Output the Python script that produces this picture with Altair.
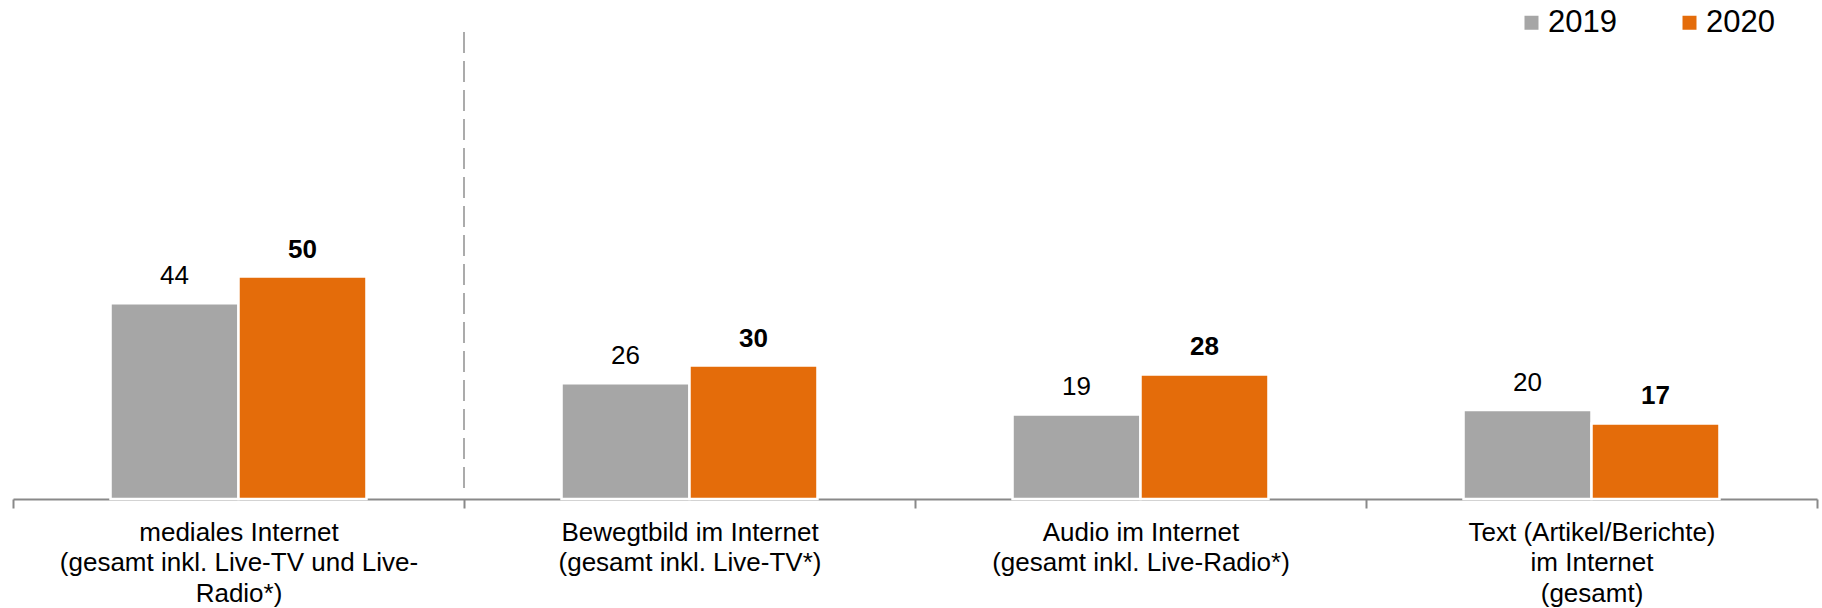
import altair as alt
import pandas as pd

categories = [
    "mediales Internet|(gesamt inkl. Live-TV und Live-|Radio*)",
    "Bewegtbild im Internet|(gesamt inkl. Live-TV*)",
    "Audio im Internet|(gesamt inkl. Live-Radio*)",
    "Text (Artikel/Berichte)|im Internet|(gesamt)",
]
years = ["2019", "2020"]
values_2019 = [44, 26, 19, 20]
values_2020 = [50, 30, 28, 17]
colors = ["#A6A6A6", "#E46C0A"]

rows = []
for c, a, b in zip(categories, values_2019, values_2020):
    rows.append({"cat": c, "year": "2019", "value": a})
    rows.append({"cat": c, "year": "2020", "value": b})
df = pd.DataFrame(rows)

FONT = "Liberation Sans"

x_enc = alt.X(
    "cat:N",
    sort=categories,
    scale=alt.Scale(paddingInner=0, paddingOuter=0),
    axis=alt.Axis(
        title=None,
        labelExpr="split(datum.label, '|')",
        tickBand="extent",
        labelAngle=0,
        labelFont=FONT,
        labelFontSize=26,
        labelColor="#000000",
        labelLineHeight=30.5,
        labelPadding=11,
        labelLimit=0,
        labelBaseline="top",
        domainColor="#898989",
        domainWidth=2,
        tickColor="#898989",
        tickWidth=2,
        tickSize=9,
        grid=False,
    ),
)
xoff = alt.XOffset("year:N", sort=years, scale=alt.Scale(paddingInner=0, paddingOuter=0.762))
y_enc = alt.Y("value:Q", scale=alt.Scale(domain=[0, 105], nice=False, zero=True), axis=None)

bars = alt.Chart(df).mark_bar(stroke="white", strokeWidth=2.5).encode(
    x=x_enc,
    xOffset=xoff,
    y=y_enc,
    color=alt.Color(
        "year:N",
        sort=years,
        scale=alt.Scale(domain=years, range=colors),
        legend=alt.Legend(
            title=None,
            orient="none",
            legendX=1503,
            legendY=-25,
            direction="horizontal",
            symbolType="square",
            symbolSize=196,
            symbolStrokeWidth=0,
            labelFont=FONT,
            labelFontSize=31,
            labelColor="#000000",
            labelOffset=1,
            columnPadding=57,
        ),
    ),
)

lab19 = alt.Chart(df).transform_filter(alt.datum.year == "2019").mark_text(
    dy=-19, baseline="alphabetic", fontSize=26, font=FONT, color="#000000"
).encode(x=alt.X("cat:N", sort=categories), xOffset=xoff, y=y_enc, text="value:Q")

lab20 = alt.Chart(df).transform_filter(alt.datum.year == "2020").mark_text(
    dy=-19, baseline="alphabetic", fontSize=26, font=FONT, fontWeight="bold", color="#000000"
).encode(x=alt.X("cat:N", sort=categories), xOffset=xoff, y=y_enc, text="value:Q")

sep = pd.DataFrame({"cat": [categories[1]], "top": [105], "bottom": [1.3]})
rule = alt.Chart(sep).mark_rule(strokeDash=[21, 8], color="#ABABAB", strokeWidth=2).encode(
    x=alt.X("cat:N", sort=categories, bandPosition=0),
    y=alt.Y("top:Q", axis=None),
    y2="bottom:Q",
)

chart = alt.layer(bars, rule, lab19, lab20).properties(
    width=1804,
    height=467,
    background="white",
    autosize=alt.AutoSizeParams(type="none"),
    padding={"left": 13, "top": 32, "right": 5, "bottom": 109},
).configure_view(stroke=None)

chart.save("out.html", embed_options={"renderer": "svg", "actions": False})
